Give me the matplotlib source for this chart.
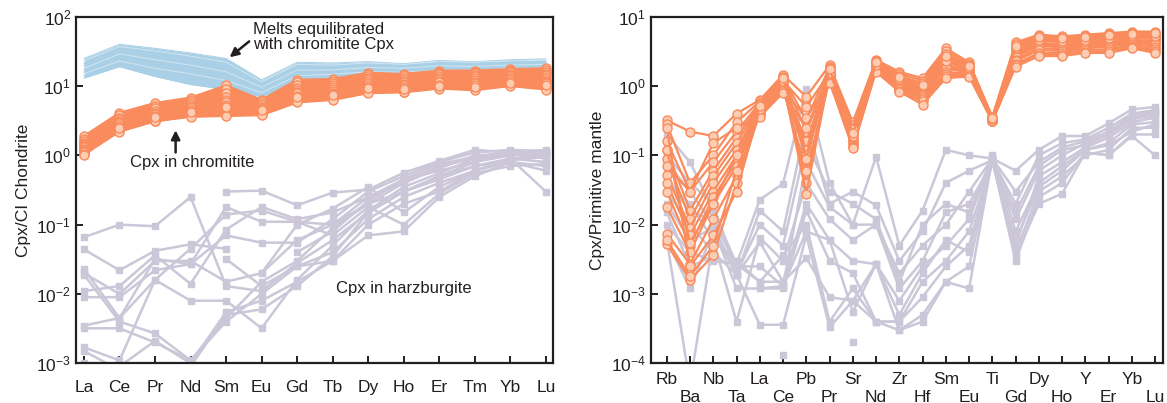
import numpy as np
import matplotlib
matplotlib.use("Agg")
import matplotlib.pyplot as plt
from matplotlib.ticker import LogLocator, LogFormatterMathtext, NullLocator

plt.rcParams['font.family'] = ['Liberation Sans', 'DejaVu Sans']
nan = np.nan

# ---------------- Left panel: chondrite-normalised REE ----------------
ree = ["La", "Ce", "Pr", "Nd", "Sm", "Eu", "Gd", "Tb", "Dy", "Ho", "Er", "Tm", "Yb", "Lu"]

melts = [
    [25, 40, 35, 30, 25, 12.3, 22, 21.5, 22.5, 21, 23.4, 22.4, 24, 24.6],
    [23, 37, 32, 27, 22, 11.5, 20.5, 20, 21.5, 20.5, 22.5, 22, 23, 23.5],
    [21, 34, 29, 24, 20, 10.8, 19, 19, 20.5, 19.5, 21.5, 21, 22, 22.5],
    [19.5, 31, 26, 22, 18, 10.2, 18, 18, 19.5, 18.8, 20.5, 20, 21, 21.5],
    [18, 29, 24, 20, 16, 9.6, 17, 17, 18.5, 18, 19.5, 19.2, 20, 20.5],
    [17, 27, 22, 18, 14.5, 9.0, 16, 16.2, 17.5, 17.2, 18.5, 18.3, 19.2, 19.5],
    [16, 25, 20, 16.5, 13, 8.5, 15, 15.5, 16.8, 16.5, 17.8, 17.5, 18.5, 18.8],
    [15, 23, 18, 15, 12, 8.0, 14, 14.8, 16, 15.8, 17, 16.8, 17.8, 18],
    [14, 21, 16, 13, 10.5, 7.6, 12.5, 14, 15.2, 15, 16.2, 16, 17, 17],
    [13, 19, 13.7, 10.5, 8.9, 7.0, 11, 13, 14.2, 14.2, 15.2, 15, 16, 16.2],
]

chromitite_ree = [
    [1.9, 4.1, 5.7, 6.8, 10.2, 6.3, 12.3, 12.6, 15.5, 14.9, 16.7, 16.7, 17.5, 18],
    [1.7, 3.8, 5.2, 6.3, 9.0, 6.0, 11.5, 12.0, 14.8, 14.2, 16.0, 16.0, 17.0, 17.0],
    [1.6, 3.5, 4.8, 5.9, 7.8, 5.6, 10.5, 11.2, 14.0, 13.5, 15.5, 15.2, 16.5, 16.0],
    [1.5, 3.3, 4.4, 5.5, 7.0, 5.3, 9.5, 10.5, 13.0, 12.8, 14.8, 14.5, 15.8, 15.0],
    [1.45, 3.1, 4.1, 5.1, 6.2, 5.0, 8.8, 9.8, 12.5, 12.0, 14.0, 13.8, 15.0, 14.2],
    [1.4, 3.0, 3.9, 4.9, 5.8, 4.8, 8.2, 9.2, 11.8, 11.5, 13.2, 13.0, 14.5, 13.5],
    [1.35, 2.9, 3.7, 4.6, 5.3, 4.6, 7.8, 8.6, 11.0, 10.8, 12.5, 12.3, 14.0, 12.8],
    [1.3, 2.7, 3.5, 4.4, 4.9, 4.4, 7.2, 8.0, 10.5, 10.2, 12.0, 11.6, 13.2, 12.0],
    [1.25, 2.6, 3.4, 4.2, 4.6, 4.2, 6.8, 7.6, 9.8, 9.7, 11.3, 11.0, 12.5, 11.5],
    [1.2, 2.5, 3.3, 4.0, 4.3, 4.1, 6.5, 7.2, 9.2, 9.2, 10.5, 10.3, 11.8, 11.0],
    [1.15, 2.4, 3.2, 3.8, 4.0, 4.0, 6.2, 6.8, 8.6, 8.6, 9.8, 9.5, 11.0, 10.0],
    [1.1, 2.3, 3.1, 3.7, 3.8, 3.9, 6.0, 6.5, 8.2, 8.3, 9.4, 9.0, 10.5, 9.5],
    [1.05, 2.2, 3.1, 3.6, 3.7, 3.8, 5.8, 6.3, 7.9, 8.1, 9.2, 8.7, 10.0, 8.9],
    [1.0, 2.5, 3.6, 4.2, 5.0, 4.5, 7.0, 7.5, 9.5, 9.0, 10.0, 9.8, 11.0, 10.5],
]

harzburgite_ree = [
    [0.066, 0.10, 0.095, 0.25, 0.013, 0.011, 0.028, 0.06, 0.15, 0.30, 0.50, 0.80, 1.00, 1.10],
    [0.044, 0.022, 0.042, 0.052, 0.045, nan, nan, nan, nan, nan, nan, nan, nan, nan],
    [0.023, 0.0045, 0.032, 0.027, 0.18, 0.11, 0.11, 0.10, 0.20, 0.40, 0.70, 0.90, 1.10, 1.20],
    [0.011, 0.013, 0.036, 0.014, 0.085, 0.18, 0.12, 0.15, 0.25, 0.45, 0.60, 0.80, 1.10, 1.00],
    [0.019, 0.0040, 0.0027, 0.0011, 0.0045, 0.015, 0.030, 0.09, 0.20, 0.30, 0.50, 0.70, 0.90, 0.80],
    [0.0035, 0.0045, 0.016, 0.008, 0.008, 0.0032, 0.016, 0.05, 0.16, 0.35, 0.55, 0.90, 1.00, 1.05],
    [0.0032, 0.0032, 0.0020, 0.0011, 0.0040, 0.010, 0.025, 0.04, 0.12, 0.25, 0.40, 0.60, 0.90, 0.30],
    [0.009, 0.009, 0.022, 0.027, 0.07, 0.055, 0.055, 0.12, 0.30, 0.50, 0.80, 1.10, 1.20, 1.15],
    [0.0010, 0.0009, 0.0021, 0.0010, 0.0055, 0.008, 0.015, 0.03, 0.10, 0.20, 0.30, 0.60, 0.80, 0.70],
    [0.0015, 0.0008, 0.0008, 0.0009, 0.0050, 0.006, 0.013, 0.035, 0.15, 0.30, 0.45, 0.70, 0.85, 0.95],
    [nan, nan, nan, nan, 0.032, 0.013, 0.025, 0.03, 0.07, 0.08, 0.25, 0.50, 0.80, 0.60],
    [0.020, 0.010, 0.030, 0.030, 0.015, 0.020, 0.10, 0.17, 0.35, 0.15, 0.35, 0.60, 0.90, 1.00],
    [nan, nan, nan, nan, 0.30, 0.31, 0.19, 0.29, 0.32, 0.56, 0.83, 1.20, 1.10, 1.00],
    [0.0017, 0.0011, 0.016, 0.045, 0.14, 0.16, 0.11, 0.07, 0.18, 0.10, 0.28, 0.55, 0.70, 0.75],
    [nan, nan, nan, nan, nan, 0.02, 0.06, 0.10, 0.25, 0.40, 0.65, 1.00, 1.05, 0.90],
    [nan, nan, nan, nan, nan, nan, 0.04, 0.08, 0.22, 0.45, 0.75, 0.95, 1.15, 1.10],
]

# ---------------- Right panel: primitive-mantle-normalised spider ----------------
spider = ["Rb", "Ba", "Nb", "Ta", "La", "Ce", "Pb", "Pr", "Sr", "Nd", "Zr",
          "Hf", "Sm", "Eu", "Ti", "Gd", "Dy", "Ho", "Y", "Er", "Yb", "Lu"]

chromitite_pm = [
    [0.32, 0.22, 0.19, 0.40, 0.63, 1.45, 0.70, 2.0, 0.30, 2.4, 1.6, 1.3, 3.5, 2.2, 0.36, 4.25, 5.5, 5.2, 5.5, 5.8, 6.1, 6.1],
    [0.28, 0.04, 0.10, 0.30, 0.60, 1.35, 0.32, 1.9, 0.27, 2.3, 1.5, 1.2, 3.2, 2.1, 0.35, 4.0, 5.3, 5.0, 5.3, 5.6, 5.9, 5.9],
    [0.16, 0.03, 0.08, 0.22, 0.57, 1.30, 0.22, 1.8, 0.25, 2.2, 1.4, 1.1, 2.9, 2.0, 0.34, 3.7, 5.0, 4.8, 5.0, 5.3, 5.6, 5.6],
    [0.12, 0.016, 0.06, 0.18, 0.55, 1.25, 0.13, 1.7, 0.22, 2.1, 1.3, 1.0, 2.6, 1.9, 0.34, 3.4, 4.8, 4.5, 4.8, 5.0, 5.4, 5.3],
    [0.09, 0.012, 0.05, 0.15, 0.52, 1.20, 0.087, 1.6, 0.20, 2.0, 1.2, 0.95, 2.4, 1.8, 0.33, 3.2, 4.5, 4.3, 4.5, 4.8, 5.1, 5.0],
    [0.052, 0.009, 0.04, 0.12, 0.50, 1.15, 0.04, 1.5, 0.18, 1.95, 1.15, 0.9, 2.2, 1.75, 0.33, 3.0, 4.2, 4.0, 4.3, 4.5, 4.9, 4.8],
    [0.04, 0.007, 0.03, 0.10, 0.48, 1.10, 0.028, 1.45, 0.17, 1.9, 1.1, 0.85, 2.0, 1.7, 0.32, 2.8, 4.0, 3.8, 4.1, 4.3, 4.6, 4.5],
    [0.03, 0.005, 0.025, 0.08, 0.45, 1.05, 0.16, 1.4, 0.16, 1.85, 1.05, 0.8, 1.9, 1.6, 0.32, 2.6, 3.8, 3.6, 3.9, 4.1, 4.4, 4.2],
    [0.018, 0.004, 0.02, 0.07, 0.43, 1.0, 0.12, 1.35, 0.15, 1.8, 1.0, 0.75, 1.8, 1.55, 0.32, 2.4, 3.5, 3.4, 3.7, 3.9, 4.2, 4.0],
    [0.0074, 0.0027, 0.012, 0.05, 0.41, 0.95, 0.10, 1.3, 0.14, 1.75, 0.95, 0.7, 1.6, 1.5, 0.31, 2.3, 3.3, 3.2, 3.5, 3.7, 4.0, 3.7],
    [0.0052, 0.0016, 0.0036, 0.04, 0.40, 0.90, 0.06, 1.2, 0.13, 1.7, 0.9, 0.65, 1.5, 1.45, 0.31, 2.1, 3.0, 3.0, 3.3, 3.4, 3.8, 3.4],
    [0.12, 0.0055, 0.02, 0.10, 0.38, 0.85, 0.35, 1.15, 0.126, 1.65, 0.85, 0.6, 1.4, 1.4, 0.31, 2.0, 2.8, 2.8, 3.1, 3.2, 3.6, 3.2],
    [0.07, 0.03, 0.15, 0.25, 0.36, 0.80, 0.25, 1.1, 0.19, 1.6, 0.83, 0.54, 1.3, 1.37, 0.31, 1.9, 2.7, 2.7, 3.0, 3.0, 3.5, 3.0],
    [0.25, 0.0025, 0.007, 0.03, 0.47, 1.2, 0.5, 1.55, 0.24, 2.0, 1.25, 1.0, 2.3, 1.8, 0.33, 3.5, 4.6, 4.4, 4.6, 4.9, 5.2, 5.2],
    [0.006, 0.0018, 0.005, 0.06, 0.52, 1.3, 0.09, 1.75, 0.21, 2.2, 1.35, 1.05, 2.7, 1.95, 0.34, 3.8, 5.1, 4.9, 5.1, 5.4, 5.7, 5.8],
]

harzburgite_pm = [
    [0.20, 0.08, 0.016, 0.0027, 0.023, 0.039, 0.9, 0.04, 0.01, 0.095, 0.005, 0.016, 0.12, 0.1, 0.09, 0.06, 0.12, 0.19, 0.19, 0.29, 0.46, 0.5],
    [0.08, 0.03, 0.01, 0.0019, 0.016, 0.008, 0.3, 0.02, 0.03, 0.019, 0.003, 0.008, 0.04, 0.06, 0.085, 0.02, 0.1, 0.15, 0.17, 0.25, 0.4, 0.45],
    [0.04, 0.02, 0.006, 0.0004, 0.0065, 0.003, 0.04, 0.012, 0.006, 0.01, 0.0012, 0.003, 0.015, 0.02, 0.08, 0.012, 0.06, 0.1, 0.15, 0.2, 0.35, 0.4],
    [0.03, 0.01, 0.004, 0.0019, 0.0056, 0.0015, 0.02, 0.006, 0.003, 0.0027, 0.0008, 0.0025, 0.005, 0.012, 0.09, 0.005, 0.05, 0.08, 0.13, 0.18, 0.3, 0.35],
    [0.02, 0.006, 0.009, 0.0012, 0.0012, 0.0012, 0.016, 0.003, 0.002, 0.0004, 0.0004, 0.0009, 0.0025, 0.005, 0.1, 0.008, 0.04, 0.07, 0.12, 0.15, 0.28, 0.3],
    [0.01, 0.004, 0.003, 0.0027, 0.0015, 0.0036, 0.01, 0.0004, 0.0012, 0.0004, 0.0003, 0.0005, 0.0015, 0.0012, 0.09, 0.004, 0.03, 0.05, 0.1, 0.12, 0.25, 0.25],
    [0.006, 0.0012, 0.008, 0.0019, 0.00036, 0.00036, 0.007, 0.00033, 0.0008, 0.0004, 0.0004, 0.0015, 0.003, 0.008, 0.085, 0.003, 0.025, 0.04, 0.11, 0.1, 0.2, 0.2],
    [0.006, 0.00005, 0.006, 0.003, 0.0015, 0.0015, 0.0033, 0.0009, 0.0008, 0.0027, 0.0005, 0.002, 0.006, 0.004, 0.08, 0.006, 0.035, 0.06, 0.12, 0.14, 0.22, 0.28],
    [0.05, 0.015, 0.012, 0.0025, 0.0025, 0.0013, 0.08, 0.018, 0.01, 0.01, 0.002, 0.005, 0.01, 0.03, 0.09, 0.03, 0.08, 0.13, 0.16, 0.22, 0.38, 0.42],
    [0.1, 0.04, 0.02, 0.002, 0.01, 0.005, 0.15, 0.03, 0.02, 0.012, 0.0015, 0.01, 0.02, 0.015, 0.095, 0.015, 0.07, 0.12, 0.14, 0.2, 0.33, 0.38],
    [0.015, 0.0025, 0.0035, nan, 0.0012, 0.0013, 0.008, 0.006, 0.00055, 0.0027, 0.0003, 0.0004, 0.0015, 0.0025, 0.085, 0.0035, 0.02, 0.028, 0.11, 0.1, 0.19, 0.1],
    [nan, nan, nan, nan, nan, 0.00013, nan, nan, 0.0002, nan, nan, nan, nan, nan, nan, nan, nan, nan, nan, nan, nan, nan],
]

# ---------------- styling ----------------
ORANGE = "#F98B5C"
PEACH = "#FDCDB3"
GRAY = "#CBC7D8"
BLUE = "#A9D0E6"
BLUE_LIGHT = "#D2E6F1"
DARK = "#231F20"

fig = plt.figure(figsize=(11.67, 4.03), dpi=100)
axL = fig.add_axes([0.0651, 0.0985, 0.4090, 0.8601])
axR = fig.add_axes([0.5576, 0.0985, 0.4390, 0.8601])


def style_axes(ax):
    ax.set_yscale("log")
    ax.yaxis.set_major_locator(LogLocator(base=10, numticks=20))
    ax.yaxis.set_major_formatter(LogFormatterMathtext())
    ax.yaxis.set_minor_locator(NullLocator())
    for s in ax.spines.values():
        s.set_linewidth(1.6)
        s.set_color(DARK)
    ax.tick_params(axis="both", which="major", direction="in", length=5,
                   width=1.4, color=DARK, labelsize=12.5, labelcolor=DARK)


# Left panel
xL = np.arange(len(ree))
for row in harzburgite_ree:
    axL.plot(xL, row, color=GRAY, lw=1.8, marker="s", ms=5, mfc=GRAY, mec=GRAY, zorder=2)

melt_arr = np.array(melts)
axL.fill_between(xL, melt_arr.min(axis=0), melt_arr.max(axis=0), color=BLUE, lw=0, zorder=3)
for i, row in enumerate(melts):
    axL.plot(xL, row, color=BLUE_LIGHT if i % 3 == 1 else BLUE, lw=0.7, zorder=3)

chr_arr = np.array(chromitite_ree)
axL.fill_between(xL, chr_arr.min(axis=0), chr_arr.max(axis=0), color=ORANGE, lw=0, zorder=4)
for row in chromitite_ree:
    axL.plot(xL, row, color=ORANGE, lw=1.6, marker="o", ms=6.5, mfc=PEACH, mec=ORANGE,
             mew=1.0, zorder=5)

axL.set_xlim(-0.225, 13.21)
axL.set_ylim(1e-3, 1e2)
style_axes(axL)
axL.set_xticks(xL)
axL.set_xticklabels(ree)
axL.tick_params(axis="x", pad=12)
axL.set_ylabel("Cpx/CI Chondrite", fontsize=12.5, color=DARK, labelpad=4)

axL.text(4.76, 85, "Melts equilibrated\nwith chromitite Cpx", fontsize=12, color=DARK,
         ha="left", va="top", linespacing=1.05, zorder=6)
axL.annotate("", xy=(4.10, 26.0), xytext=(4.65, 44.0),
             arrowprops=dict(arrowstyle="-|>", color=DARK, lw=1.8, mutation_scale=13,
                             shrinkA=0, shrinkB=0), zorder=6)
axL.text(3.04, 0.80, "Cpx in chromitite", fontsize=12, color=DARK, ha="center", va="center", zorder=6)
axL.annotate("", xy=(2.58, 2.3), xytext=(2.58, 1.1),
             arrowprops=dict(arrowstyle="-|>", color=DARK, lw=1.8, mutation_scale=13,
                             shrinkA=0, shrinkB=0), zorder=6)
axL.text(8.99, 0.012, "Cpx in harzburgite", fontsize=12, color=DARK, ha="center", va="center", zorder=6)

# Right panel
xR = np.arange(len(spider))
for row in harzburgite_pm:
    axR.plot(xR, row, color=GRAY, lw=1.8, marker="s", ms=5, mfc=GRAY, mec=GRAY, zorder=2)
for row in chromitite_pm:
    axR.plot(xR, row, color=ORANGE, lw=1.6, marker="o", ms=6.5, mfc=PEACH, mec=ORANGE,
             mew=1.0, zorder=5)

axR.set_xlim(-0.69, 21.34)
axR.set_ylim(1e-4, 1e1)
style_axes(axR)
axR.set_xticks(xR)
axR.set_xticklabels([n if i % 2 == 0 else "\n" + n for i, n in enumerate(spider)],
                    linespacing=1.3)
axR.tick_params(axis="x", pad=6)
axR.set_ylabel("Cpx/Primitive mantle", fontsize=12.5, color=DARK, labelpad=4)

fig.savefig("out.png", dpi=100)
